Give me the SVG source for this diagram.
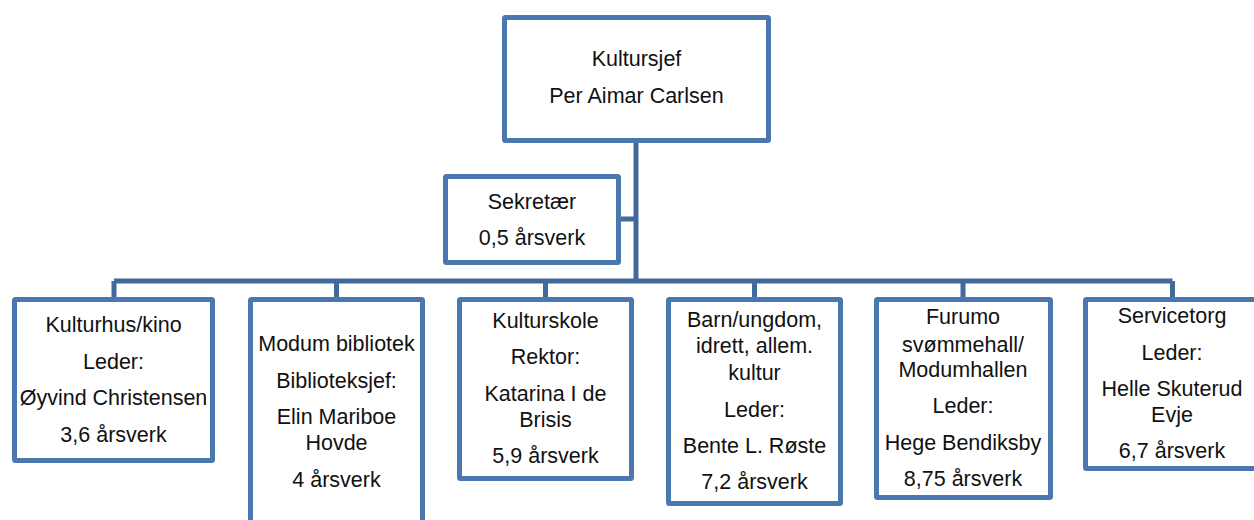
<svg xmlns="http://www.w3.org/2000/svg" width="1254" height="520" viewBox="0 0 1254 520">
<style>
.box{fill:#ffffff;stroke:#4a77ae;stroke-width:5}
.con{fill:none;stroke:#41699b;stroke-width:5}
text{font-family:"Liberation Sans",Arial,sans-serif;font-size:21.5px;fill:#111111;text-anchor:middle}
</style>
<rect width="1254" height="520" fill="#ffffff"/>
<g id="connectors">
<path class="con" d="M636 143 V281"/>
<path class="con" d="M621 219 H636"/>
<path class="con" d="M114 281 H1172.5"/>
<path class="con" d="M114 281 V298 M336.5 281 V298 M545.5 281 V298 M754.5 281 V298 M963 281 V298 M1172.5 281 V298"/>
</g>
<g id="kultursjef">
<rect class="box" x="504.5" y="17.5" width="264" height="123" rx="1"/>
<text x="636.5" y="66">Kultursjef</text>
<text x="636.5" y="103">Per Aimar Carlsen</text>
</g>
<g id="sekretaer">
<rect class="box" x="445.5" y="176.5" width="173" height="86" rx="1"/>
<text x="532" y="209">Sekretær</text>
<text x="532" y="245">0,5 årsverk</text>
</g>
<g id="kulturhus">
<rect class="box" x="14.5" y="299.5" width="198" height="161" rx="1"/>
<text x="113.5" y="332">Kulturhus/kino</text>
<text x="113.5" y="369">Leder:</text>
<text x="113.5" y="405">Øyvind Christensen</text>
<text x="113.5" y="442">3,6 årsverk</text>
</g>
<g id="bibliotek">
<rect class="box" x="250.5" y="299.5" width="172" height="240" rx="1"/>
<text x="336.5" y="351">Modum bibliotek</text>
<text x="336.5" y="388">Biblioteksjef:</text>
<text x="336.5" y="424">Elin Mariboe</text>
<text x="336.5" y="450">Hovde</text>
<text x="336.5" y="487">4 årsverk</text>
</g>
<g id="kulturskole">
<rect class="box" x="459.5" y="299.5" width="172" height="179" rx="1"/>
<text x="545.5" y="328">Kulturskole</text>
<text x="545.5" y="364">Rektor:</text>
<text x="545.5" y="401">Katarina I de</text>
<text x="545.5" y="427">Brisis</text>
<text x="545.5" y="463">5,9 årsverk</text>
</g>
<g id="barn-ungdom">
<rect class="box" x="668.5" y="299.5" width="172" height="204" rx="1"/>
<text x="754.5" y="327">Barn/ungdom,</text>
<text x="754.5" y="353">idrett, allem.</text>
<text x="754.5" y="380">kultur</text>
<text x="754.5" y="417">Leder:</text>
<text x="754.5" y="453">Bente L. Røste</text>
<text x="754.5" y="489">7,2 årsverk</text>
</g>
<g id="furumo">
<rect class="box" x="876.5" y="299.5" width="174" height="198" rx="1"/>
<text x="963" y="324">Furumo</text>
<text x="963" y="352">svømmehall/</text>
<text x="963" y="377">Modumhallen</text>
<text x="963" y="413">Leder:</text>
<text x="963" y="450">Hege Bendiksby</text>
<text x="963" y="486">8,75 årsverk</text>
</g>
<g id="servicetorg">
<rect class="box" x="1085.5" y="299.5" width="174" height="169" rx="1"/>
<text x="1172" y="323">Servicetorg</text>
<text x="1172" y="360">Leder:</text>
<text x="1172" y="396">Helle Skuterud</text>
<text x="1172" y="422">Evje</text>
<text x="1172" y="458">6,7 årsverk</text>
</g>
</svg>
